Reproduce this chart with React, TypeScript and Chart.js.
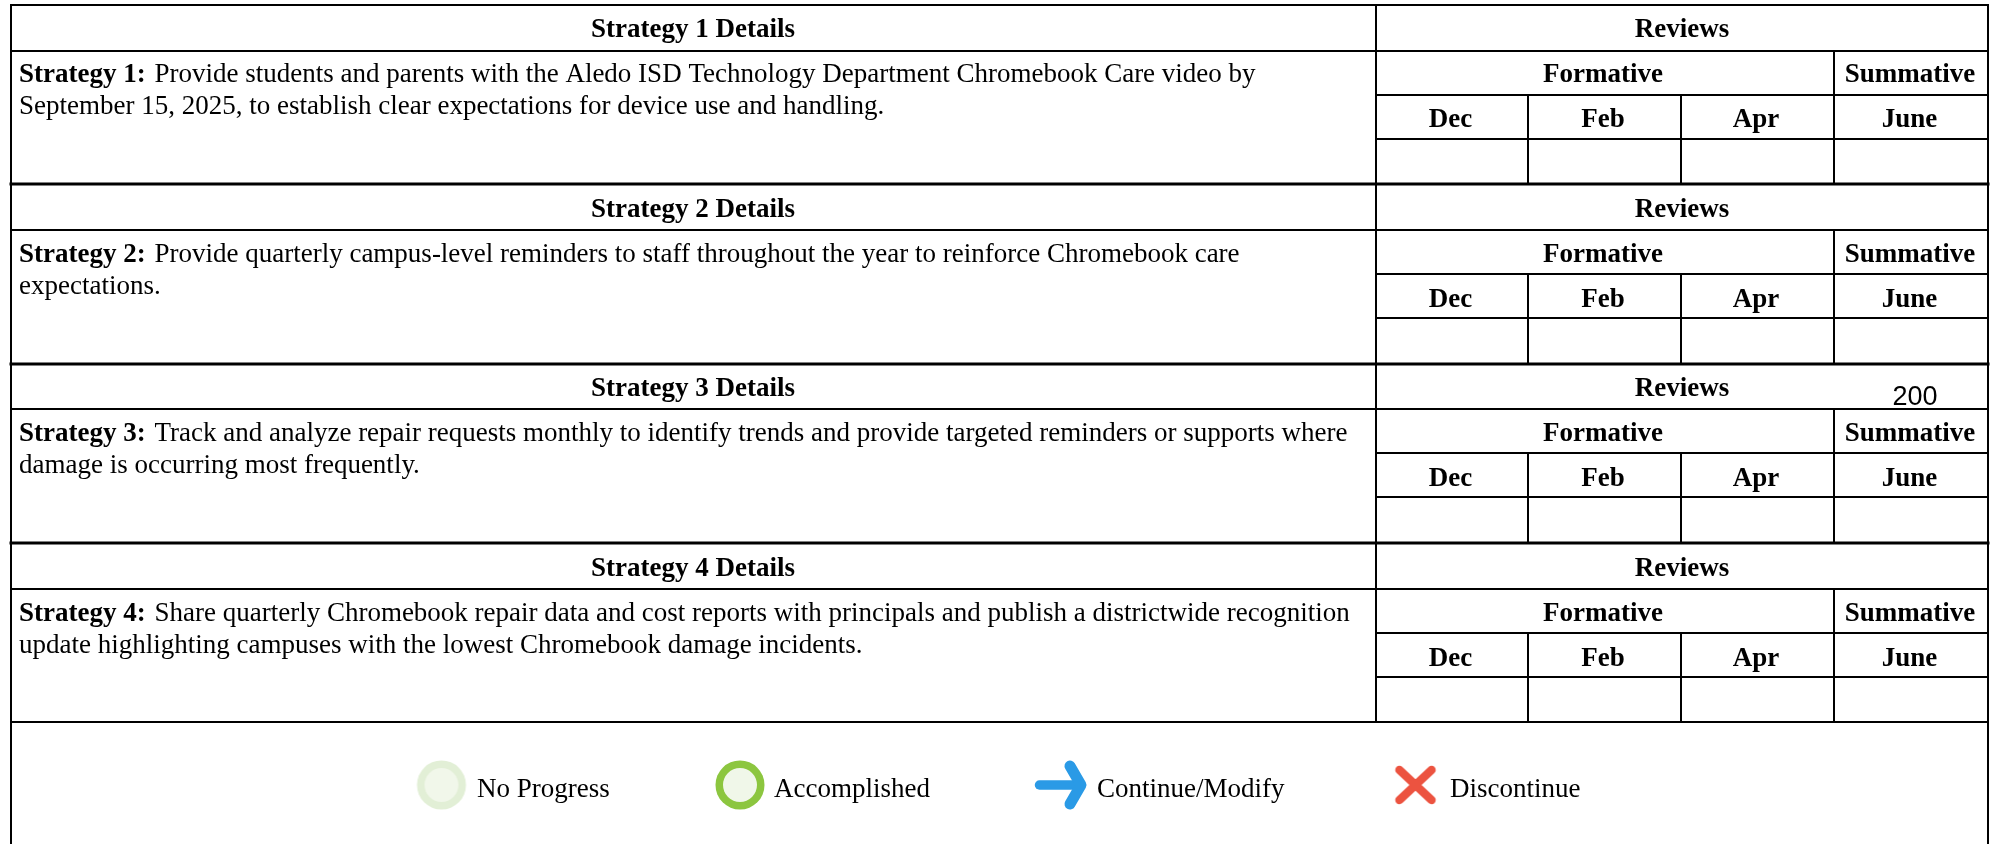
import React, { useEffect, useRef } from "react";
import { Chart, registerables } from "chart.js";

Chart.register(...registerables);

const strategyHeaders = ["Strategy 1 Details", "Strategy 2 Details", "Strategy 3 Details", "Strategy 4 Details"];
const strategyLabels = ["Strategy 1:", "Strategy 2:", "Strategy 3:", "Strategy 4:"];
const strategyFirstLines = [
  "Provide students and parents with the Aledo ISD Technology Department Chromebook Care video by",
  "Provide quarterly campus-level reminders to staff throughout the year to reinforce Chromebook care",
  "Track and analyze repair requests monthly to identify trends and provide targeted reminders or supports where",
  "Share quarterly Chromebook repair data and cost reports with principals and publish a districtwide recognition",
];
const strategySecondLines = [
  "September 15, 2025, to establish clear expectations for device use and handling.",
  "expectations.",
  "damage is occurring most frequently.",
  "update highlighting campuses with the lowest Chromebook damage incidents.",
];
const reviewMonths = ["Dec", "Feb", "Apr", "June"];
const legendLabels = ["No Progress", "Accomplished", "Continue/Modify", "Discontinue"];
const strayLabel = "200";

const W = 1993;
const H = 844;
const rowTops = [5, 184, 363.5, 543];
const textTops = [5, 185, 364, 544];
const tableBottom = 722;
const left = 11;
const right = 1988;
const split = 1376;
const monthX = [1528, 1681, 1834];
const SERIF = '"Liberation Serif"';
const FONT_SIZE = 27;

function icon(draw: (c: CanvasRenderingContext2D) => void) {
  const cv = document.createElement("canvas");
  cv.width = 60;
  cv.height = 60;
  const c = cv.getContext("2d")!;
  c.translate(30, 30);
  draw(c);
  return cv;
}
function disc(c: CanvasRenderingContext2D, r: number, fill: string) {
  c.fillStyle = fill;
  c.beginPath();
  c.arc(0, 0, r, 0, Math.PI * 2);
  c.fill();
}
const legendIcons = [
  () => icon((c) => { disc(c, 24.5, "#e2efd6"); disc(c, 17, "#f1f7ea"); }),
  () => icon((c) => { disc(c, 24.5, "#8cc63f"); disc(c, 17, "#f0f7e9"); }),
  () => icon((c) => {
    c.strokeStyle = "#2a9ae6";
    c.lineWidth = 9.5;
    c.lineCap = "round";
    c.lineJoin = "round";
    c.beginPath();
    c.moveTo(-21.5, 0);
    c.lineTo(19, 0);
    c.stroke();
    c.lineWidth = 11;
    c.beginPath();
    c.moveTo(9, -19);
    c.lineTo(20, 0);
    c.lineTo(9, 19);
    c.stroke();
  }),
  () => icon((c) => {
    c.strokeStyle = "#ec5340";
    c.lineWidth = 8.5;
    c.lineCap = "round";
    c.beginPath();
    c.moveTo(-16, -15);
    c.lineTo(16, 15);
    c.moveTo(16, -15);
    c.lineTo(-16, 15);
    c.stroke();
  }),
];
const legendIconX = [441.5, 740, 1061, 1415.5];
const legendTextX = [477, 774, 1097, 1450];
const legendY = 785;

type Seg = [number, number, number, number, number];

function tableSegments(): Seg[] {
  const segs: Seg[] = [];
  segs.push([left, 5, right, 5, 2]);
  segs.push([left, 5, left, H, 2]);
  segs.push([right, 5, right, H, 2]);
  segs.push([split, 5, split, tableBottom, 2]);
  rowTops.forEach((t, i) => {
    const ry = (o: number) => Math.round(t + o);
    if (i > 0) segs.push([left, ry(0), right, ry(0), 3]);
    segs.push([left, ry(45.6), right, ry(45.6), 2]);
    segs.push([split, ry(89.6), right, ry(89.6), 2]);
    segs.push([split, ry(133.6), right, ry(133.6), 2]);
    segs.push([monthX[0], ry(89.6), monthX[0], ry(178.5), 2]);
    segs.push([monthX[1], ry(89.6), monthX[1], ry(178.5), 2]);
    segs.push([monthX[2], ry(45.6), monthX[2], ry(178.5), 2]);
  });
  segs.push([left, tableBottom, right, tableBottom, 2]);
  return segs;
}

const tableText = {
  id: "tableText",
  afterDatasetsDraw(chart: any) {
    const { ctx, scales } = chart;
    const px = (v: number) => scales.x.getPixelForValue(v);
    const py = (v: number) => scales.y.getPixelForValue(v);
    const text = (s: string, x: number, y: number, bold: boolean, align: CanvasTextAlign = "center") => {
      ctx.font = `${bold ? "bold " : ""}${FONT_SIZE}px ${SERIF}`;
      ctx.textAlign = align;
      ctx.textBaseline = "alphabetic";
      ctx.fillStyle = "#000";
      ctx.fillText(s, px(x), py(y));
    };
    ctx.save();
    textTops.forEach((t, i) => {
      text(strategyHeaders[i], (left + split) / 2 - 0.5, t + 32, true);
      text("Reviews", (split + right) / 2, t + 32, true);
      text("Formative", (split + monthX[2]) / 2 - 2, t + 77, true);
      text("Summative", (monthX[2] + right) / 2 - 1, t + 77, true);
      const edges = [split, ...monthX, right];
      reviewMonths.forEach((m, k) => text(m, (edges[k] + edges[k + 1]) / 2 - 1.5, t + 122, true));
      text(strategyLabels[i], 19, t + 77, true, "left");
      ctx.font = `bold ${FONT_SIZE}px ${SERIF}`;
      const w = ctx.measureText(strategyLabels[i] + " ").width;
      text(strategyFirstLines[i], 19 + w + 2, t + 77, false, "left");
      text(strategySecondLines[i], 19, t + 109, false, "left");
    });
    legendLabels.forEach((l, i) => text(l, legendTextX[i], 797, false, "left"));
    ctx.font = `${FONT_SIZE}px "Liberation Sans"`;
    ctx.textAlign = "center";
    ctx.textBaseline = "alphabetic";
    ctx.fillStyle = "#000";
    ctx.fillText(strayLabel, px(1915), py(405));
    ctx.restore();
  },
};

export default function App() {
  const ref = useRef<HTMLCanvasElement>(null);
  useEffect(() => {
    const lineSets = tableSegments().map((s) => ({
      data: [{ x: s[0], y: s[1] }, { x: s[2], y: s[3] }],
      showLine: true,
      borderColor: "#000",
      borderWidth: s[4],
      pointRadius: 0,
      borderCapStyle: "square" as const,
      clip: false as any,
    }));
    const markerSets = legendLabels.map((label, i) => ({
      label,
      data: [{ x: legendIconX[i], y: legendY }],
      pointStyle: legendIcons[i](),
      pointRadius: 30,
      showLine: false,
    }));
    const chart = new Chart(ref.current!, {
      type: "scatter",
      data: { datasets: [...lineSets, ...markerSets] as any },
      plugins: [tableText],
      options: {
        animation: false,
        responsive: false,
        devicePixelRatio: 1,
        layout: { padding: 0, autoPadding: false },
        plugins: { legend: { display: false }, tooltip: { enabled: false }, title: { display: false } },
        scales: {
          x: { type: "linear", min: 0, max: W, display: false },
          y: { type: "linear", min: 0, max: H, reverse: true, display: false },
        },
      },
    });
    return () => chart.destroy();
  }, []);
  return (
    <div style={{ position: "fixed", left: 0, top: 0, width: W, height: H, background: "#fff" }}>
      <canvas ref={ref} width={W} height={H} style={{ display: "block", width: W, height: H }} />
    </div>
  );
}
